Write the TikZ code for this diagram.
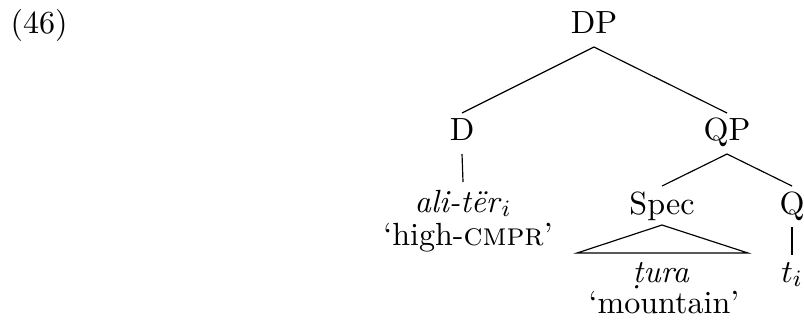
\documentclass[tikz,border=0pt]{standalone}
\usetikzlibrary{calc}
\begin{document}
\begin{tikzpicture}[x=0.3413pt,y=-0.3413pt,
  lbl/.style={anchor=base,inner sep=0pt,font=\fontsize{10.95}{13.6}\selectfont},
  edge/.style={draw=black,line width=0.4pt}]
\useasboundingbox (0,0) rectangle (804,326);
\node[lbl,anchor=base west] (ex) at (10,33) {(46)};
\node[lbl] (DP) at (594,33) {DP};
\node[lbl] (D) at (462,140) {D};
\node[lbl] (QP) at (727,140) {QP};
\node[lbl] (ali) at (463,212) {\textit{ali-tër}$_i$};
\node[lbl] (g1) at (468,245) {`high-\textsc{cmpr}'};
\node[lbl] (Spec) at (662,214) {Spec};
\node[lbl] (Q) at (792,214) {Q};
\node[lbl] (tura) at (661,282) {\textit{\d{t}ura}};
\node[lbl] (g2) at (664,313) {`mountain'};
\node[lbl] (ti) at (792,282) {$t_i$};
% branches
\draw[edge] ($(DP.base)+(0,14)$) -- ($(D.base)+(0,-27)$);
\draw[edge] ($(DP.base)+(0,14)$) -- ($(QP.base)+(0,-27)$);
\draw[edge] ($(D.base)+(0,14)$) -- ($(ali.base)+(0,-30)$);
\draw[edge] ($(QP.base)+(0,14)$) -- ($(Spec.base)+(0,-28)$);
\draw[edge] ($(QP.base)+(0,14)$) -- ($(Q.base)+(0,-28)$);
\draw[edge] ($(Spec.base)+(0,11)$) -- ($(Spec.base)+(-85,39)$) -- ($(Spec.base)+(86,39)$) -- cycle;
\draw[edge] ($(Q.base)+(0,13)$) -- ($(ti.base)+(0,-27)$);
\end{tikzpicture}
\end{document}
